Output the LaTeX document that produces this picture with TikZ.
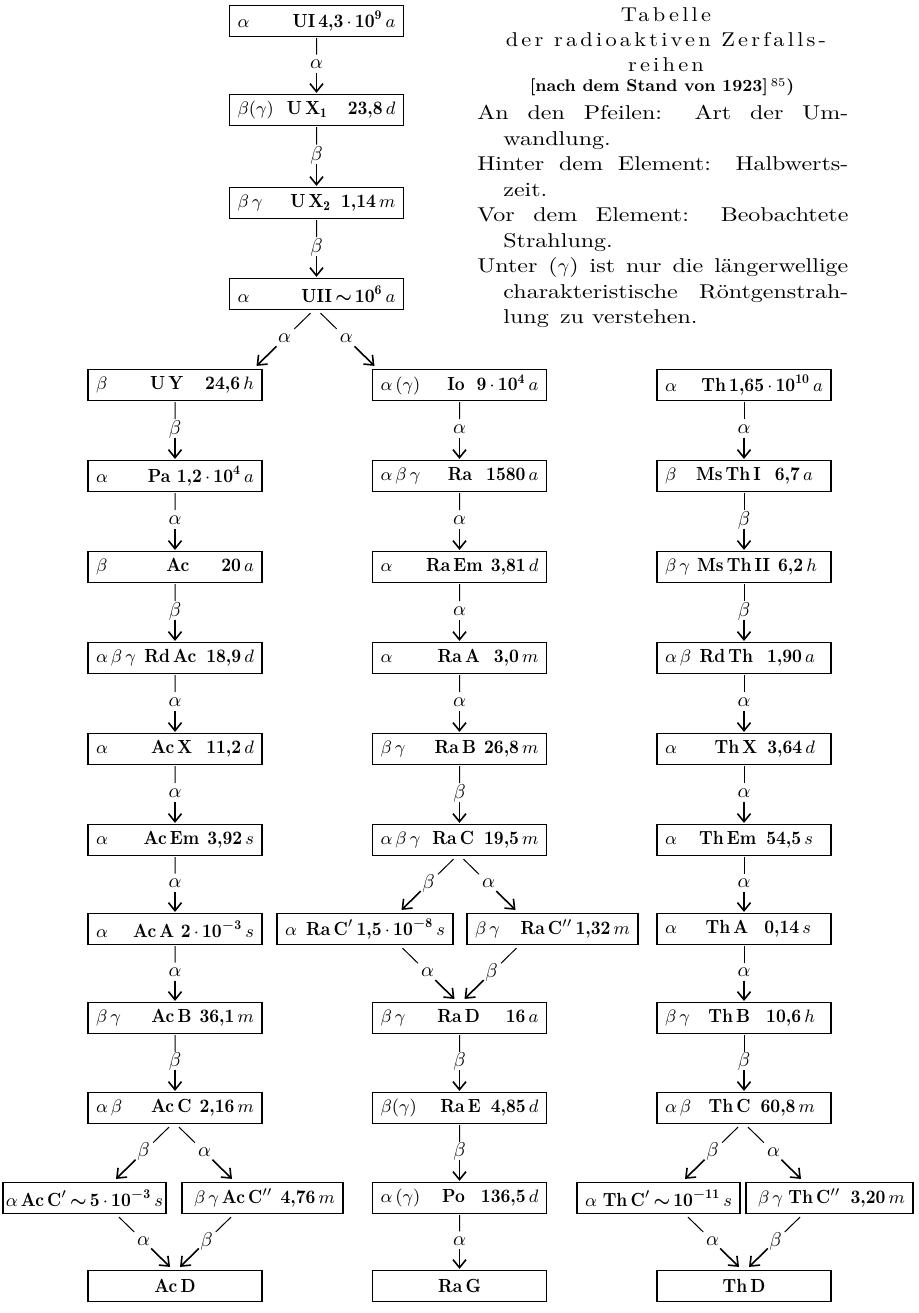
\documentclass[tikz,border=0pt]{standalone}
\usepackage{fontspec}
\usetikzlibrary{arrows.meta,calc}

\newfontfamily\legendfont{lmroman10-regular.otf}[FakeStretch=1.2]
\newfontfamily\titlefont{lmroman10-regular.otf}[FakeStretch=1.12, LetterSpace=16]
\newfontfamily\elemfont{lmroman10-bold.otf}[FakeStretch=0.9]

\tikzset{
  elem/.style={draw, line width=0.6pt, minimum height=15.5pt, inner xsep=4pt, inner ysep=0pt,
    font=\fontsize{9.5}{11}\selectfont\elemfont},
  hair/.style={line width=0.5pt},
  arr/.style={line width=0.8pt, -{Straight Barb[length=4pt,width=6.5pt]}},
  lbl/.style={inner sep=0.5pt, font=\fontsize{10}{12}\selectfont},
}

\newcommand\bx[3][79pt]{\makebox[#1]{#2\hfill#3}}
\newcommand\approxsign{\mbox{\boldmath$\sim$}}

% connector: thin line, label, arrow
\newcommand\decay[3]{%
  \coordinate (s) at (#1);
  \coordinate (e) at (#2);
  \draw[hair] (s) -- ($(s)!0.3!(e)$);
  \node[lbl] at ($(s)!0.48!(e)$) {$#3$};
  \draw[arr] ($(s)!0.63!(e)$) -- (e);
}
\newcommand\vdecay[3]{\decay{$(#1.south)+(0,1)$}{$(#2.north)+(0,-1)$}{#3}}

\begin{document}
\begin{tikzpicture}[x=0.5pt,y=-0.5pt]
    \useasboundingbox (0,0) rectangle (919,1313);

    % title and legend
    \node[align=center, inner sep=0, font=\fontsize{10}{12.5}\selectfont\titlefont] (title) at (666,40)
        {Tabelle\\der radioaktiven Zerfalls-\\reihen};
    \node[inner sep=0, font=\fontsize{8.5}{10}\selectfont\bfseries] (stand) at (662,87)
        {[nach dem Stand von 1923]\,\textsuperscript{\mdseries 85})};
    \node[anchor=north west, text width=185.5pt, inner sep=0, align=justify, font=\fontsize{10}{12.75}\selectfont\legendfont] (legend) at (477,105) {%
        \parindent=0pt
        \hangindent=13pt\hangafter=1 An den Pfeilen: Art der Um-\linebreak wandlung.\par
        \hangindent=13pt\hangafter=1 Hinter dem Element: Halbwerts-\linebreak zeit.\par
        \hangindent=13pt\hangafter=1 Vor dem Element: Beobachtete\linebreak Strahlung.\par
        \hangindent=13pt\hangafter=1 Unter ($\gamma$) ist nur die längerwellige\linebreak charakteristische Röntgenstrah-\linebreak lung\, zu verstehen.\par};

    % uranium
    \node[elem] (UI)   at (316.5,21)  {\bx{$\alpha$}{UI\,4,3\,$\cdot$\,10\textsuperscript{9}\,$a$}};
    \node[elem] (UXa)  at (316.5,110) {\bx{$\beta(\gamma)$}{U\,X$_{\mathbf{1}}$\hspace{10pt}23,8\,$d$}};
    \node[elem] (UXb)  at (316.5,203) {\bx{$\beta\,\gamma$}{U\,X$_{\mathbf{2}}$\hspace{5pt}1,14\,$m$}};
    \node[elem] (UII)  at (316.5,294) {\bx{$\alpha$}{UII\,\approxsign\,10\textsuperscript{6}\,$a$}};

    % actinium
    \node[elem] (UY)   at (175,385)  {\bx{$\beta$}{U\,Y\hspace{11pt}24,6\,$h$}};
    \node[elem] (Pa)   at (175,476)  {\bx{$\alpha$}{Pa 1,2\,$\cdot$\,10\textsuperscript{4}\,$a$}};
    \node[elem] (Ac)   at (175,567)  {\bx{$\beta$}{Ac\hspace{16pt}20\,$a$}};
    \node[elem] (RdAc) at (175,658)  {\bx{$\alpha\,\beta\,\gamma$}{Rd\,Ac\hspace{5pt}18,9\,$d$}};
    \node[elem] (AcX)  at (175,749)  {\bx{$\alpha$}{Ac\,X\hspace{7pt}11,2\,$d$}};
    \node[elem] (AcEm) at (175,840)  {\bx{$\alpha$}{Ac\,Em\hspace{4pt}3,92\,$s$}};
    \node[elem] (AcA)  at (175,929)  {\bx{$\alpha$}{Ac\,A 2\,$\cdot$\,10\textsuperscript{$-$3}\,$s$}};
    \node[elem] (AcB)  at (175,1018) {\bx{$\beta\,\gamma$}{Ac\,B\hspace{4pt}36,1\,$m$}};
    \node[elem] (AcC)  at (175,1108) {\bx{$\alpha\,\beta$}{Ac\,C\hspace{4pt}2,16\,$m$}};
    \node[elem] (AcCa) at (84.5,1198) {\bx[73.5pt]{$\alpha$\,}{Ac\,C$'$\,\approxsign\,5\,$\cdot$\,10\textsuperscript{$-$3}\,$s$}};
    \node[elem] (AcCb) at (262.5,1198) {\bx[72.5pt]{\hspace{2pt}$\beta\,\gamma$}{Ac\,C$''$\hspace{4pt}4,76\,$m$}};
    \node[elem] (AcD)  at (175,1286) {\makebox[79pt]{Ac\,D}};

    % radium
    \node[elem] (Io)   at (459.5,385)  {\bx{$\alpha\,(\gamma)$}{Io\hspace{6pt}9\,$\cdot$\,10\textsuperscript{4}\,$a$}};
    \node[elem] (Ra)   at (459.5,476)  {\bx{$\alpha\,\beta\,\gamma$}{Ra\hspace{7pt}1580\,$a$}};
    \node[elem] (RaEm) at (459.5,567)  {\bx{$\alpha$}{Ra\,Em\hspace{4pt}3,81\,$d$}};
    \node[elem] (RaA)  at (459.5,658)  {\bx{$\alpha$}{Ra\,A\hspace{7pt}3,0\,$m$}};
    \node[elem] (RaB)  at (459.5,749)  {\bx{$\beta\,\gamma$}{Ra\,B\hspace{4pt}26,8\,$m$}};
    \node[elem] (RaC)  at (459.5,840)  {\bx{$\alpha\,\beta\,\gamma$}{Ra\,C\hspace{5pt}19,5\,$m$}};
    \node[elem] (RaCa) at (365,929)    {\bx[80pt]{$\alpha$}{Ra\,C$'$\,1,5\,$\cdot$\,10\textsuperscript{$-$8}\,$s$}};
    \node[elem] (RaCb) at (552.5,929)  {\bx[77.5pt]{$\beta\,\gamma$}{Ra\,C$''$\,1,32\,$m$}};
    \node[elem] (RaD)  at (459.5,1018) {\bx{$\beta\,\gamma$}{Ra\,D\hspace{13pt}16\,$a$}};
    \node[elem] (RaE)  at (459.5,1108) {\bx{$\beta(\gamma)$}{Ra\,E\hspace{5pt}4,85\,$d$}};
    \node[elem] (Po)   at (459.5,1198) {\bx{$\alpha\,(\gamma)$}{Po\hspace{8pt}136,5\,$d$}};
    \node[elem] (RaG)  at (459.5,1286) {\makebox[79pt]{Ra\,G}};

    % thorium
    \node[elem] (Th)    at (744,385)  {\bx{$\alpha$}{Th\,1,65\,$\cdot$\,10\textsuperscript{10}\,$a$}};
    \node[elem] (MsTha) at (744,476)  {\bx{$\beta$}{Ms\,Th\,I\hspace{7pt}6,7\,$a$\hspace{5pt}}};
    \node[elem] (MsThb) at (744,567)  {\bx{$\beta\,\gamma$}{Ms\,Th\,II\hspace{4pt}6,2\,$h$\hspace{3pt}}};
    \node[elem] (RdTh)  at (744,658)  {\bx{$\alpha\,\beta$}{Rd\,Th\hspace{7pt}1,90\,$a$\hspace{4pt}}};
    \node[elem] (ThX)   at (744,749)  {\bx{$\alpha$}{Th\,X\hspace{5pt}3,64\,$d$\hspace{4pt}}};
    \node[elem] (ThEm)  at (744,840)  {\bx{$\alpha$}{Th\,Em\hspace{5pt}54,5\,$s$\hspace{5pt}}};
    \node[elem] (ThA)   at (744,929)  {\bx{$\alpha$}{Th\,A\hspace{8pt}0,14\,$s$\hspace{6pt}}};
    \node[elem] (ThB)   at (744,1018) {\bx{$\beta\,\gamma$}{Th\,B\hspace{8pt}10,6\,$h$\hspace{4pt}}};
    \node[elem] (ThC)   at (744,1108) {\bx{$\alpha\,\beta$}{Th\,C\hspace{5pt}60,8\,$m$\hspace{4pt}}};
    \node[elem] (ThCa)  at (658.5,1198) {\bx[73.5pt]{$\alpha$\,}{Th\,C$'$\,\approxsign\,10\textsuperscript{$-$11}\,$s$}};
    \node[elem] (ThCb)  at (829.5,1198) {\bx[75.5pt]{\hspace{2pt}$\beta\,\gamma$}{Th\,C$''$\hspace{5pt}3,20\,$m$}};
    \node[elem] (ThD)   at (744,1286) {\makebox[79pt]{Th\,D}};

    % straight chains
    \vdecay{UI}{UXa}{\alpha}
    \vdecay{UXa}{UXb}{\beta}
    \vdecay{UXb}{UII}{\beta}

    \vdecay{UY}{Pa}{\beta}
    \vdecay{Pa}{Ac}{\alpha}
    \vdecay{Ac}{RdAc}{\beta}
    \vdecay{RdAc}{AcX}{\alpha}
    \vdecay{AcX}{AcEm}{\alpha}
    \vdecay{AcEm}{AcA}{\alpha}
    \vdecay{AcA}{AcB}{\alpha}
    \vdecay{AcB}{AcC}{\beta}

    \vdecay{Io}{Ra}{\alpha}
    \vdecay{Ra}{RaEm}{\alpha}
    \vdecay{RaEm}{RaA}{\alpha}
    \vdecay{RaA}{RaB}{\alpha}
    \vdecay{RaB}{RaC}{\beta}
    \vdecay{RaD}{RaE}{\beta}
    \vdecay{RaE}{Po}{\beta}
    \vdecay{Po}{RaG}{\alpha}

    \vdecay{Th}{MsTha}{\alpha}
    \vdecay{MsTha}{MsThb}{\beta}
    \vdecay{MsThb}{RdTh}{\beta}
    \vdecay{RdTh}{ThX}{\alpha}
    \vdecay{ThX}{ThEm}{\alpha}
    \vdecay{ThEm}{ThA}{\alpha}
    \vdecay{ThA}{ThB}{\alpha}
    \vdecay{ThB}{ThC}{\beta}

    % branchings
    \decay{$(UII.south)+(-6,3)$}{$(UY.north)+(81.5,-3)$}{\alpha}
    \decay{$(UII.south)+(4,3)$}{$(Io.north)+(-85,-3)$}{\alpha}

    \decay{$(AcC.south)+(-6,3)$}{$(AcCa.north)+(31.5,-3)$}{\beta}
    \decay{$(AcC.south)+(4,3)$}{$(AcCb.north)+(-30.5,-3)$}{\alpha}
    \decay{$(AcCa.south)+(34.5,3)$}{$(AcD.north)+(-5,-3)$}{\alpha}
    \decay{$(AcCb.south)+(-31.5,3)$}{$(AcD.north)+(5,-3)$}{\beta}

    \decay{$(RaC.south)+(-6,3)$}{$(RaCa.north)+(36.5,-3)$}{\beta}
    \decay{$(RaC.south)+(4,3)$}{$(RaCb.north)+(-37,-3)$}{\alpha}
    \decay{$(RaCa.south)+(37.5,3)$}{$(RaD.north)+(-5,-3)$}{\alpha}
    \decay{$(RaCb.south)+(-36,3)$}{$(RaD.north)+(5,-3)$}{\beta}

    \decay{$(ThC.south)+(-6,3)$}{$(ThCa.north)+(26.5,-3)$}{\beta}
    \decay{$(ThC.south)+(4,3)$}{$(ThCb.north)+(-28.5,-3)$}{\alpha}
    \decay{$(ThCa.south)+(29.5,3)$}{$(ThD.north)+(-5,-3)$}{\alpha}
    \decay{$(ThCb.south)+(-29.5,3)$}{$(ThD.north)+(5,-3)$}{\beta}
\end{tikzpicture}
\end{document}
